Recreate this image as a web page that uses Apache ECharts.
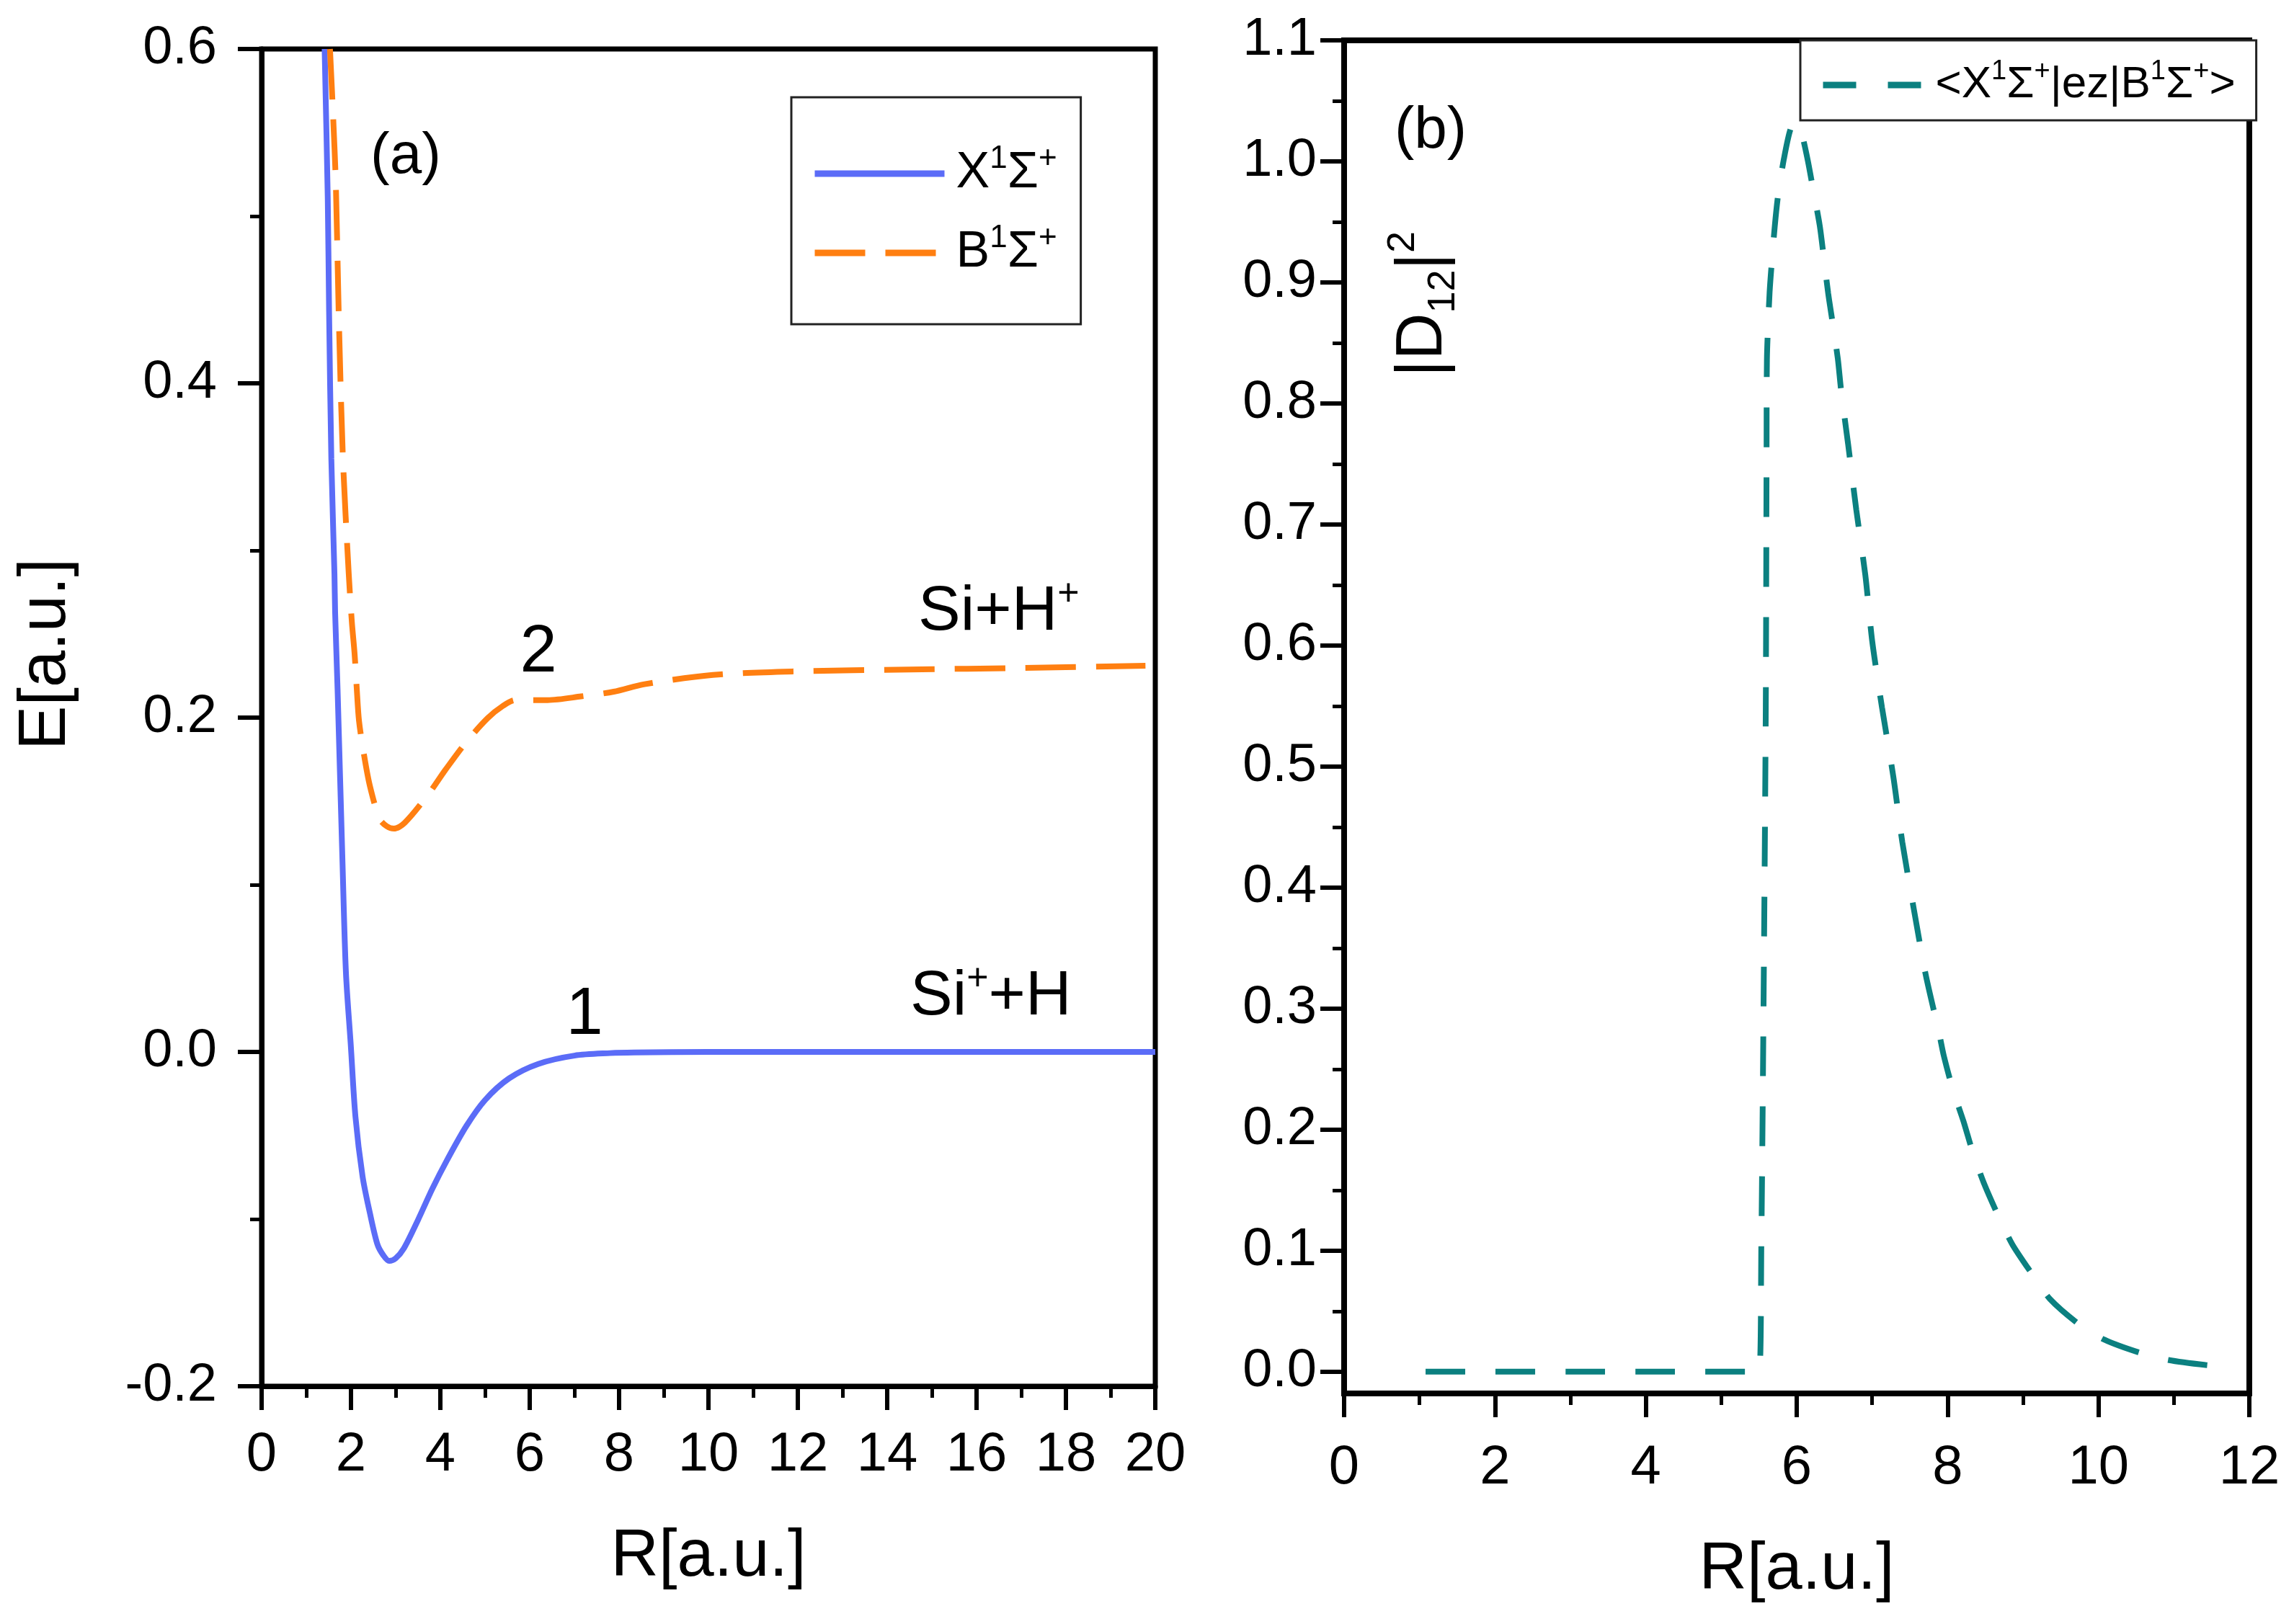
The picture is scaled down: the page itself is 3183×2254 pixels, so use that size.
<!DOCTYPE html>
<html><head><meta charset="utf-8">
<script src="https://cdn.jsdelivr.net/npm/echarts@6/dist/echarts.min.js"></script>
<style>html,body{margin:0;padding:0;background:#fff}#c{width:3183px;height:2254px}</style>
</head><body><div id="c"></div>
<script>
// ---- Data ----
const xStateR = [1.41,1.48,1.51,1.56,1.63,1.645,1.70,1.81,1.887,1.995,2.10,2.26,2.42,2.59,2.72,2.855,3.0,3.18,3.5,3.82,4.15,4.58,5.0,5.54,6.19,7.0,7.8,8.34,10,14,20];
const xStateE = [0.60,0.511,0.443,0.355,0.286,0.263,0.217,0.1135,0.0474,0.0043,-0.0388,-0.0746,-0.096,-0.115,-0.1215,-0.125,-0.1235,-0.1177,-0.1005,-0.0819,-0.0647,-0.0444,-0.0288,-0.0158,-0.0072,-0.0022,-0.0007,-0.0003,0,0,0];

const bStateR = [1.53,1.60,1.66,1.73,1.82,1.95,2.02,2.08,2.13,2.18,2.29,2.42,2.64,2.80,2.96,3.2,3.72,4.12,4.58,5.06,5.4,5.68,6.40,7.15,7.88,8.57,10.1,11.97,14.5,17.06,19.78];
const bStateE = [0.60,0.56,0.52,0.437,0.355,0.286,0.257,0.2385,0.217,0.198,0.178,0.1595,0.1394,0.135,0.1336,0.137,0.1537,0.169,0.1854,0.1997,0.207,0.2105,0.2105,0.2127,0.2155,0.220,0.2255,0.2277,0.2288,0.2297,0.231];

const dipR = [1.08,2,3,4,5,5.50,5.53,5.56,5.59,5.60,5.605,5.64,5.67,5.71,5.755,5.83,5.92,6.0,6.07,6.146,6.22,6.305,6.36,6.417,6.48,6.545,6.59,6.68,6.79,6.91,7.0,7.13,7.28,7.40,7.55,7.71,7.89,7.95,8.07,8.21,8.34,8.48,8.67,8.86,9.12,9.36,9.745,10.08,10.53,10.92,11.42,11.82];
const dipV = [0,0,0,0,0,0,0.1,0.3,0.55,0.75,0.836,0.891,0.917,0.947,0.973,1.002,1.027,1.032,1.022,1.001,0.976,0.947,0.920,0.891,0.865,0.837,0.810,0.767,0.712,0.658,0.604,0.549,0.492,0.4375,0.383,0.328,0.279,0.261,0.233,0.207,0.180,0.156,0.129,0.105,0.0807,0.0598,0.039,0.0264,0.016,0.0097,0.0055,0.0036];

const rightYTickValues = [0,0.1,0.2,0.3,0.4,0.5,0.6,0.7,0.8,0.9,1.0,1.1];
const rightYMinorValues = [0.05,0.15,0.25,0.35,0.45,0.55,0.65,0.75,0.85,0.95,1.05];

const legendNames = ['X1Σ+', 'B1Σ+'];
const dipName = '<X1Σ+|ez|B1Σ+>';

// ---- Chart ----
const FF = 'Liberation Sans, Arial, sans-serif';
const pairs = (a, b) => a.map((v, i) => [v, b[i]]);
const BLUE = '#5B6CF7', ORANGE = '#FF7F11', TEAL = '#0B8080';

const chart = echarts.init(document.getElementById('c'), null, {renderer: 'canvas'});

function axisCommon(fs, margin) {
  return {
    axisLine: {show: true, onZero: false, lineStyle: {color: '#000', width: 7}},
    axisTick: {show: true, inside: false, length: 33, lineStyle: {color: '#000', width: 6}},
    minorTick: {show: true, splitNumber: 2, length: 16, lineStyle: {color: '#000', width: 5}},
    axisLabel: {color: '#000', fontSize: fs, fontFamily: FF, margin: margin},
    splitLine: {show: false},
    minorSplitLine: {show: false}
  };
}

const supStyle = (fs) => ({fontSize: fs, fontFamily: FF, color: '#000', fill: '#000', lineHeight: fs * 0.9, verticalAlign: 'top'});

const option = {
  backgroundColor: '#fff',
  animation: false,
  grid: [
    {left: 363, top: 68, width: 1240, height: 1856, show: true, borderColor: '#000', borderWidth: 7, backgroundColor: 'transparent'},
    {left: 1865, top: 56, width: 1256, height: 1878, show: true, borderColor: '#000', borderWidth: 8, backgroundColor: 'transparent'}
  ],
  xAxis: [
    Object.assign(axisCommon(76, 58), {type: 'value', gridIndex: 0, min: 0, max: 20, interval: 2}),
    Object.assign(axisCommon(76, 66), {type: 'value', gridIndex: 1, min: 0, max: 12, interval: 2})
  ],
  yAxis: [
    Object.assign(axisCommon(74, 62), {type: 'value', gridIndex: 0, min: -0.2, max: 0.6, interval: 0.2}),
    (function () {
      const a = axisCommon(74, 38);
      a.minorTick = {show: false};
      a.axisTick.customValues = rightYTickValues;
      a.axisLabel.customValues = rightYTickValues;
      a.axisLabel.formatter = v => v.toFixed(1);
      return Object.assign(a, {type: 'value', gridIndex: 1, min: -0.018, max: 1.1});
    })(),
    {type: 'value', gridIndex: 1, min: -0.018, max: 1.1, position: 'left', offset: 0,
      axisLine: {show: false}, axisLabel: {show: false}, splitLine: {show: false},
      axisTick: {show: true, inside: false, length: 16, customValues: rightYMinorValues, lineStyle: {color: '#000', width: 5}}}
  ],
  legend: [
    {
      data: legendNames, orient: 'vertical', left: 1098, top: 135,
      padding: [64, 33, 57, 28], itemGap: 26, itemWidth: 180, itemHeight: 40,
      borderColor: '#222', borderWidth: 3, backgroundColor: '#fff',
      itemStyle: {opacity: 0},
      lineStyle: {width: 9, type: 'inherit'},
      formatter: n => n.replace('1', '{sup|1}').replace('+', '{sup|+}'),
      textStyle: {fontSize: 70, fontFamily: FF, color: '#000', lineHeight: 84, padding: [0, 0, 0, 11],
        rich: {sup: supStyle(44)}}
    },
    {
      data: [dipName], orient: 'horizontal', left: 2498, top: 56,
      padding: [25, 29, 12, 27], itemWidth: 137, itemHeight: 30,
      borderColor: '#222', borderWidth: 3, backgroundColor: '#fff',
      itemStyle: {opacity: 0},
      lineStyle: {width: 9, type: [46, 44]},
      formatter: n => n.replace(/1/g, '{sup|1}').replace(/\+/g, '{sup|+}'),
      textStyle: {fontSize: 62, fontFamily: FF, color: '#000', lineHeight: 74, padding: [0, 0, 0, 14],
        rich: {sup: supStyle(38)}}
    }
  ],
  series: [
    {type: 'line', name: legendNames[0], xAxisIndex: 0, yAxisIndex: 0, data: pairs(xStateR, xStateE),
      symbol: 'none', smooth: 0.3, lineStyle: {color: BLUE, width: 8}, itemStyle: {color: BLUE}, clip: true},
    {type: 'line', name: legendNames[1], xAxisIndex: 0, yAxisIndex: 0, data: pairs(bStateR, bStateE),
      symbol: 'none', smooth: 0.3, lineStyle: {color: ORANGE, width: 8, type: [70, 28]}, itemStyle: {color: ORANGE}, clip: true},
    {type: 'line', name: dipName, xAxisIndex: 1, yAxisIndex: 1, data: pairs(dipR, dipV),
      symbol: 'none', smooth: 0.25, lineStyle: {color: TEAL, width: 8, type: [55, 42]}, itemStyle: {color: TEAL}, clip: true}
  ],
  graphic: [
    {type: 'text', x: 563, y: 218, style: {text: '(a)', fontSize: 80, fontFamily: FF, fill: '#000', align: 'center', verticalAlign: 'middle'}},
    {type: 'text', x: 1985, y: 182, style: {text: '(b)', fontSize: 82, fontFamily: FF, fill: '#000', align: 'center', verticalAlign: 'middle'}},
    {type: 'text', x: 747, y: 907, style: {text: '2', fontSize: 92, fontFamily: FF, fill: '#000', align: 'center', verticalAlign: 'middle'}},
    {type: 'text', x: 811, y: 1410, style: {text: '1', fontSize: 92, fontFamily: FF, fill: '#000', align: 'center', verticalAlign: 'middle'}},
    {type: 'text', x: 1274, y: 850, style: {text: 'Si+H{sup|+}', fontSize: 88, fontFamily: FF, fill: '#000', align: 'left', verticalAlign: 'middle', lineHeight: 100,
      rich: {sup: {fontSize: 52, fontFamily: FF, fill: '#000', lineHeight: 50, verticalAlign: 'top'}}}},
    {type: 'text', x: 1263, y: 1384, style: {text: 'Si{sup|+}+H', fontSize: 88, fontFamily: FF, fill: '#000', align: 'left', verticalAlign: 'middle', lineHeight: 100,
      rich: {sup: {fontSize: 52, fontFamily: FF, fill: '#000', lineHeight: 50, verticalAlign: 'top'}}}},
    {type: 'text', x: 983, y: 2162, style: {text: 'R[a.u.]', fontSize: 92, fontFamily: FF, fill: '#000', align: 'center', verticalAlign: 'middle'}},
    {type: 'text', x: 2493, y: 2180, style: {text: 'R[a.u.]', fontSize: 92, fontFamily: FF, fill: '#000', align: 'center', verticalAlign: 'middle'}},
    {type: 'text', x: 65, y: 908, rotation: Math.PI / 2, style: {text: 'E[a.u.]', fontSize: 92, fontFamily: FF, fill: '#000', align: 'center', verticalAlign: 'middle'}},
    {type: 'text', x: 1975, y: 422, rotation: Math.PI / 2, style: {text: '|D{sub|12}|{sup|2}', fontSize: 90, fontFamily: FF, fill: '#000', align: 'center', verticalAlign: 'middle', lineHeight: 110,
      rich: {
        sub: {fontSize: 54, fontFamily: FF, fill: '#000', lineHeight: 40, verticalAlign: 'bottom'},
        sup: {fontSize: 54, fontFamily: FF, fill: '#000', lineHeight: 50, verticalAlign: 'top'}
      }}}
  ]
};
option.xAxis[0].axisLabel.formatter = v => String(v);
option.yAxis[0].axisLabel.formatter = v => v.toFixed(1);
chart.setOption(option);
</script></body></html>
